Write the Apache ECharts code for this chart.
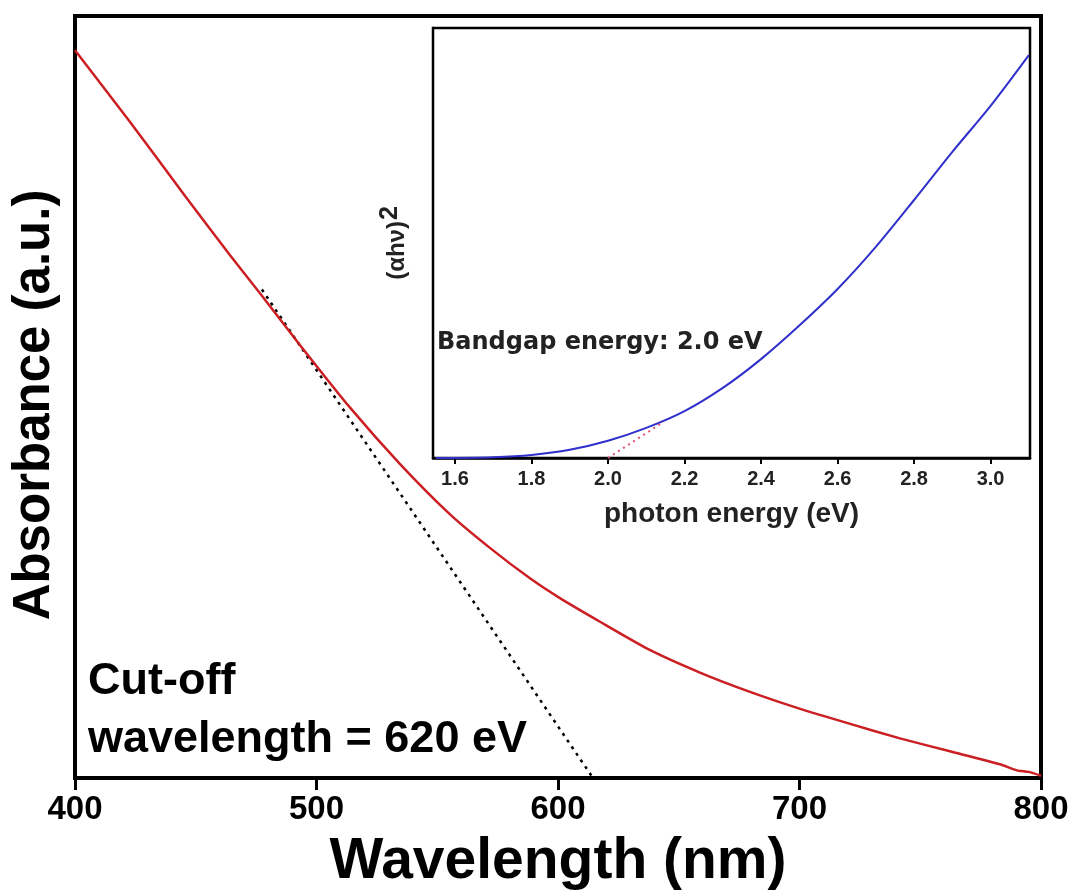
<!DOCTYPE html>
<html>
<head>
<meta charset="utf-8">
<script src="https://cdn.jsdelivr.net/npm/echarts@6/dist/echarts.min.js"></script>
<style>html,body{margin:0;padding:0;background:#fff}#c{width:1073px;height:890px}</style>
</head>
<body>
<div id="c"></div>
<script>
// Main spectrum (wavelength nm vs absorbance a.u.)
const wavelength = [400, 422.8, 445.5, 464.2, 477.4, 493.2, 513.9, 534.6, 555.3, 571.8, 588.4, 600.8, 617.4, 638, 659, 679.5, 700, 721, 741.6, 762.3, 783, 790, 795, 800];
const absorbance = [0.955, 0.861, 0.764, 0.686, 0.633, 0.568, 0.486, 0.412, 0.346, 0.302, 0.262, 0.236, 0.205, 0.168, 0.138, 0.113, 0.091, 0.071, 0.052, 0.035, 0.018, 0.010, 0.008, 0.003];
// Tangent (cut-off extrapolation)
const tangentX = [477.4, 614.5];
const tangentY = [0.641, 0.0];
// Inset Tauc plot
const photonEnergy = [1.55, 1.7, 1.8, 1.9, 2.0, 2.1, 2.2, 2.3, 2.4, 2.5, 2.6, 2.7, 2.8, 2.9, 3.0, 3.1];
const ahv2 = [0.0, 0.002, 0.007, 0.019, 0.040, 0.070, 0.109, 0.163, 0.230, 0.308, 0.393, 0.491, 0.600, 0.712, 0.819, 0.937];
const bandgapX = [2.0, 2.145];
const bandgapY = [0.0, 0.084];
const mainXTicks = [400, 500, 600, 700, 800];
const insetXTicks = [1.6, 1.8, 2.0, 2.2, 2.4, 2.6, 2.8, 3.0];

const zip = (a, b) => a.map((v, i) => [v, b[i]]);
const F = "'Liberation Sans', Arial, sans-serif";

const chart = echarts.init(document.getElementById('c'), null, {renderer: 'canvas'});
chart.setOption({
  backgroundColor: '#fff',
  animation: false,
  grid: [
    {left: 75, top: 16, width: 966, height: 762, show: true, borderColor: '#000', borderWidth: 4, backgroundColor: 'transparent', outerBoundsMode: 'none', containLabel: false},
    {left: 433, top: 28, width: 597, height: 430, show: true, borderColor: '#000', borderWidth: 2.5, backgroundColor: '#fff', z: 5, outerBoundsMode: 'none', containLabel: false}
  ],
  xAxis: [
    {
      gridIndex: 0, type: 'value', min: 400, max: 800, interval: 100,
      name: 'Wavelength (nm)', nameLocation: 'middle', nameGap: 56,
      nameTextStyle: {fontFamily: F, fontWeight: 'bold', fontSize: 57, color: '#000'},
      axisLine: {show: true, lineStyle: {color: '#000', width: 4}},
      axisTick: {show: true, inside: false, length: 12, lineStyle: {color: '#000', width: 3}},
      axisLabel: {margin: 15, fontFamily: F, fontWeight: 'bold', fontSize: 33, color: '#000',
        formatter: v => mainXTicks.includes(v) ? String(v) : ''},
      splitLine: {show: false}
    },
    {
      gridIndex: 1, type: 'value', min: 1.5425, max: 3.103,
      name: 'photon energy (eV)', nameLocation: 'middle', nameGap: 42,
      nameTextStyle: {fontFamily: F, fontWeight: 'bold', fontSize: 28, color: '#222'},
      axisLine: {show: true, onZero: false, lineStyle: {color: '#000', width: 2.5}},
      axisTick: {show: true, inside: false, length: 6, customValues: insetXTicks, lineStyle: {color: '#000', width: 2}},
      axisLabel: {margin: 11, fontFamily: F, fontWeight: 'bold', fontSize: 20, color: '#222',
        customValues: insetXTicks,
        formatter: v => v.toFixed(1)},
      splitLine: {show: false}
    }
  ],
  yAxis: [
    {
      gridIndex: 0, type: 'value', min: 0, max: 1,
      axisLine: {show: true, lineStyle: {color: '#000', width: 4}},
      axisTick: {show: false}, axisLabel: {show: false}, splitLine: {show: false}
    },
    {
      gridIndex: 1, type: 'value', min: 0, max: 1,
      name: '{a|(αhν)}{s|2}', nameLocation: 'middle', nameGap: 16,
      nameTextStyle: {rich: {
        a: {fontFamily: F, fontWeight: 'bold', fontSize: 24, color: '#222'},
        s: {fontFamily: F, fontWeight: 'bold', fontSize: 25, color: '#222', verticalAlign: 'top', padding: [0, 0, 14, 1]}
      }},
      axisLine: {show: true, lineStyle: {color: '#000', width: 2.5}},
      axisTick: {show: false}, axisLabel: {show: false}, splitLine: {show: false}
    }
  ],
  series: [
    {type: 'line', xAxisIndex: 0, yAxisIndex: 0, data: zip(wavelength, absorbance), smooth: 0.2, symbol: 'none',
      lineStyle: {color: '#cc1f24', width: 2.5}, z: 3},
    {type: 'line', xAxisIndex: 0, yAxisIndex: 0, data: zip(tangentX, tangentY), symbol: 'none',
      lineStyle: {color: '#000', width: 2.5, type: [3, 5]}, z: 2},
    {type: 'line', xAxisIndex: 1, yAxisIndex: 1, data: zip(photonEnergy, ahv2), smooth: 0.3, symbol: 'none',
      lineStyle: {color: '#2f2fcc', width: 2}, z: 6},
    {type: 'line', xAxisIndex: 1, yAxisIndex: 1, data: zip(bandgapX, bandgapY), symbol: 'none',
      lineStyle: {color: '#e0506e', width: 2, type: [2, 4]}, z: 6}
  ],
  graphic: [
    {type: 'text', x: 35, y: 405, rotation: Math.PI / 2, z: 10,
      style: {text: 'Absorbance (a.u.)', fontFamily: F, fontWeight: 'bold', fontSize: 51, fill: '#000', align: 'center', verticalAlign: 'middle'}},
    {type: 'text', left: 88, top: 659, z: 10, style: {text: 'Cut-off', fontFamily: F, fontWeight: 'bold', fontSize: 45, fill: '#000'}},
    {type: 'text', left: 88, top: 717, z: 10, style: {text: 'wavelength = 620 eV', fontFamily: F, fontWeight: 'bold', fontSize: 45, fill: '#000'}},
    {type: 'text', left: 437, top: 331, z: 10, style: {text: 'Bandgap energy: 2.0 eV', fontFamily: 'DejaVu Sans, sans-serif', fontWeight: 'bold', fontSize: 24, fill: '#222'}}
  ]
});
</script>
</body>
</html>
